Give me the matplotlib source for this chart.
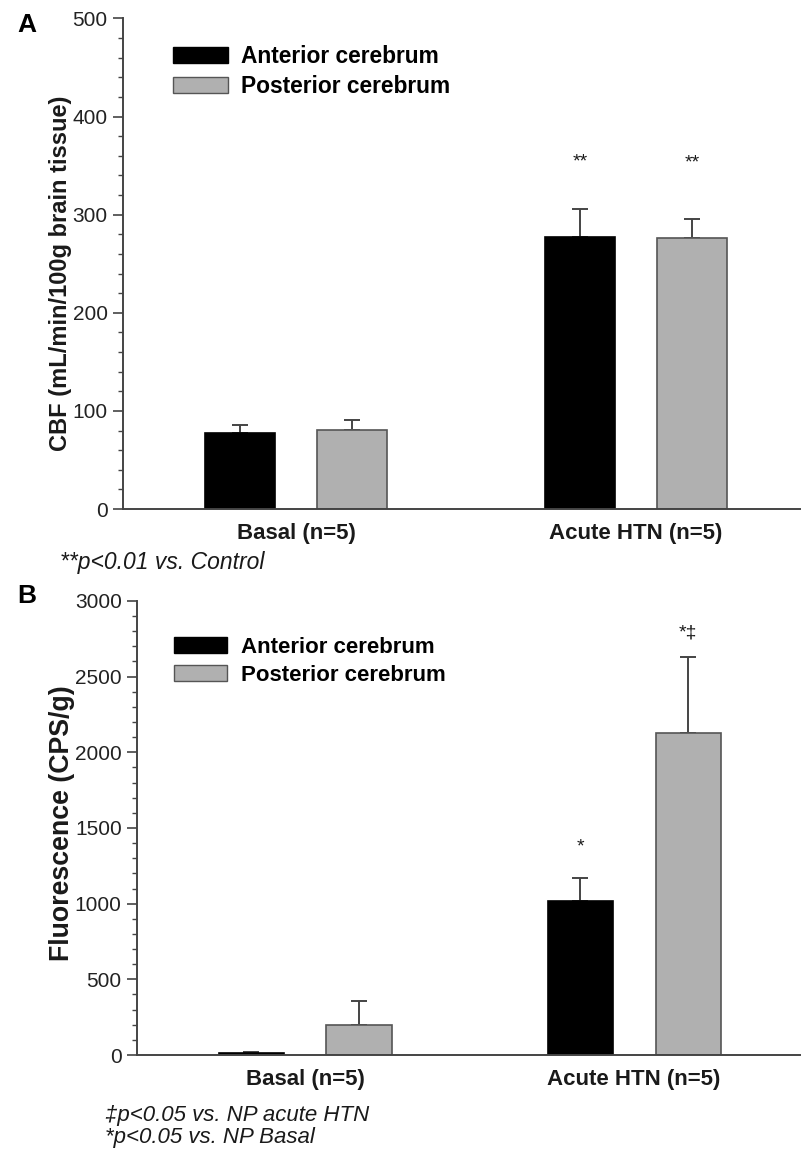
import matplotlib
matplotlib.use('Agg')
import matplotlib.pyplot as plt
from matplotlib.ticker import MultipleLocator
from matplotlib.patches import Patch

plt.rcParams['font.family'] = ['Liberation Sans', 'DejaVu Sans']

# Data
groups = ['Basal (n=5)', 'Acute HTN (n=5)']
series = ['Anterior cerebrum', 'Posterior cerebrum']

cbf_anterior = [77, 277]
cbf_anterior_err = [9, 29]
cbf_posterior = [81, 276]
cbf_posterior_err = [10, 20]
cbf_marks = [['', '**'], ['', '**']]          # per series, per group
cbf_mark_y = [[0, 354], [0, 353]]

fl_anterior = [10, 1015]
fl_anterior_err = [8, 157]
fl_posterior = [200, 2125]
fl_posterior_err = [160, 505]
fl_marks = [['', '*'], ['', '*\u2021']]
fl_mark_y = [[0, 1377], [0, 2790]]

BLACK = '#000000'
GREY = '#b0b0b0'
EDGE = '#555555'
AXIS = '#444444'
TXT = '#1a1a1a'


def draw_panel(ax, ant, ant_err, post, post_err, marks, mark_y, ylim, major, minor,
               ylabel, ylabel_size, ylabel_xy, offset, width, leg_xy, leg_size):
    xs = range(len(groups))
    vals = [ant, post]
    errs = [ant_err, post_err]
    colors = [BLACK, GREY]
    for k in range(2):
        pos = [x + (2 * k - 1) * offset for x in xs]
        ax.bar(pos, vals[k], width, color=colors[k], edgecolor=EDGE if k else BLACK,
               linewidth=1.2, zorder=2)
        ax.errorbar(pos, vals[k], yerr=[[0] * len(pos), errs[k]], fmt='none',
                    ecolor=AXIS, elinewidth=1.4, capsize=5.5, capthick=1.4, zorder=1)
        for p, m, top in zip(pos, marks[k], mark_y[k]):
            if m:
                ax.text(p, top, m, ha='center', va='center', fontsize=14, color=TXT)

    ax.set_ylim(*ylim)
    ax.yaxis.set_major_locator(MultipleLocator(major))
    ax.yaxis.set_minor_locator(MultipleLocator(minor))
    ax.set_xticks(list(xs))
    ax.set_xticklabels(groups, fontsize=16, fontweight='bold', color=TXT)
    ax.tick_params(axis='x', length=0, pad=10)
    ax.tick_params(axis='y', which='major', length=7, width=1.2, color=AXIS,
                   labelsize=15, labelcolor='#222222', pad=4)
    ax.tick_params(axis='y', which='minor', length=3.6, width=1.0, color=AXIS)
    for s in ['top', 'right']:
        ax.spines[s].set_visible(False)
    for s in ['left', 'bottom']:
        ax.spines[s].set_color(AXIS)
        ax.spines[s].set_linewidth(1.4)
    ax.set_ylabel(ylabel, fontsize=ylabel_size, fontweight='bold', color=TXT,
                  va='center')
    ax.yaxis.set_label_coords(*ylabel_xy)

    handles = [Patch(facecolor=BLACK, edgecolor=BLACK),
               Patch(facecolor=GREY, edgecolor=EDGE)]
    ax.legend(handles, series, loc='upper left', bbox_to_anchor=leg_xy,
              frameon=False, borderaxespad=0, borderpad=0,
              handlelength=2.4, handleheight=0.7,
              handletextpad=0.6, labelspacing=0.31,
              prop={'weight': 'bold', 'size': leg_size})


fig = plt.figure(figsize=(8.03, 11.49), dpi=100)

# Panel A
axA = fig.add_axes([0.1532, 0.557, 0.843, 0.427])
axA.set_xlim(-0.509, 1.482)
draw_panel(axA, cbf_anterior, cbf_anterior_err, cbf_posterior, cbf_posterior_err,
           cbf_marks, cbf_mark_y, (0, 500), 100, 20,
           'CBF (mL/min/100g brain tissue)', 17, (-0.093, 0.48),
           0.165, 0.205, (0.074, 0.946), 16.4)

# Panel B
axB = fig.add_axes([0.1706, 0.0818, 0.826, 0.3952])
axB.set_xlim(-0.511, 1.505)
draw_panel(axB, fl_anterior, fl_anterior_err, fl_posterior, fl_posterior_err,
           fl_marks, fl_mark_y, (0, 3000), 500, 100,
           'Fluorescence (CPS/g)', 19.3, (-0.113, 0.51),
           0.164, 0.198, (0.056, 0.921), 16)

# Panel letters and footnotes
fig.text(0.022, 1 - 25 / 1149, 'A', fontsize=19, fontweight='bold', ha='left', va='center')
fig.text(0.022, 1 - 596 / 1149, 'B', fontsize=19, fontweight='bold', ha='left', va='center')
fig.text(0.075, 1 - 563 / 1149, '**p<0.01 vs. Control', fontsize=16.5,
         style='italic', ha='left', va='center', color=TXT)
fig.text(0.131, 1 - 1116 / 1149, '\u2021p<0.05 vs. NP acute HTN', fontsize=16,
         style='italic', ha='left', va='center', color=TXT)
fig.text(0.131, 1 - 1137 / 1149, '*p<0.05 vs. NP Basal', fontsize=16,
         style='italic', ha='left', va='center', color=TXT)

fig.savefig('out.png', dpi=100)
